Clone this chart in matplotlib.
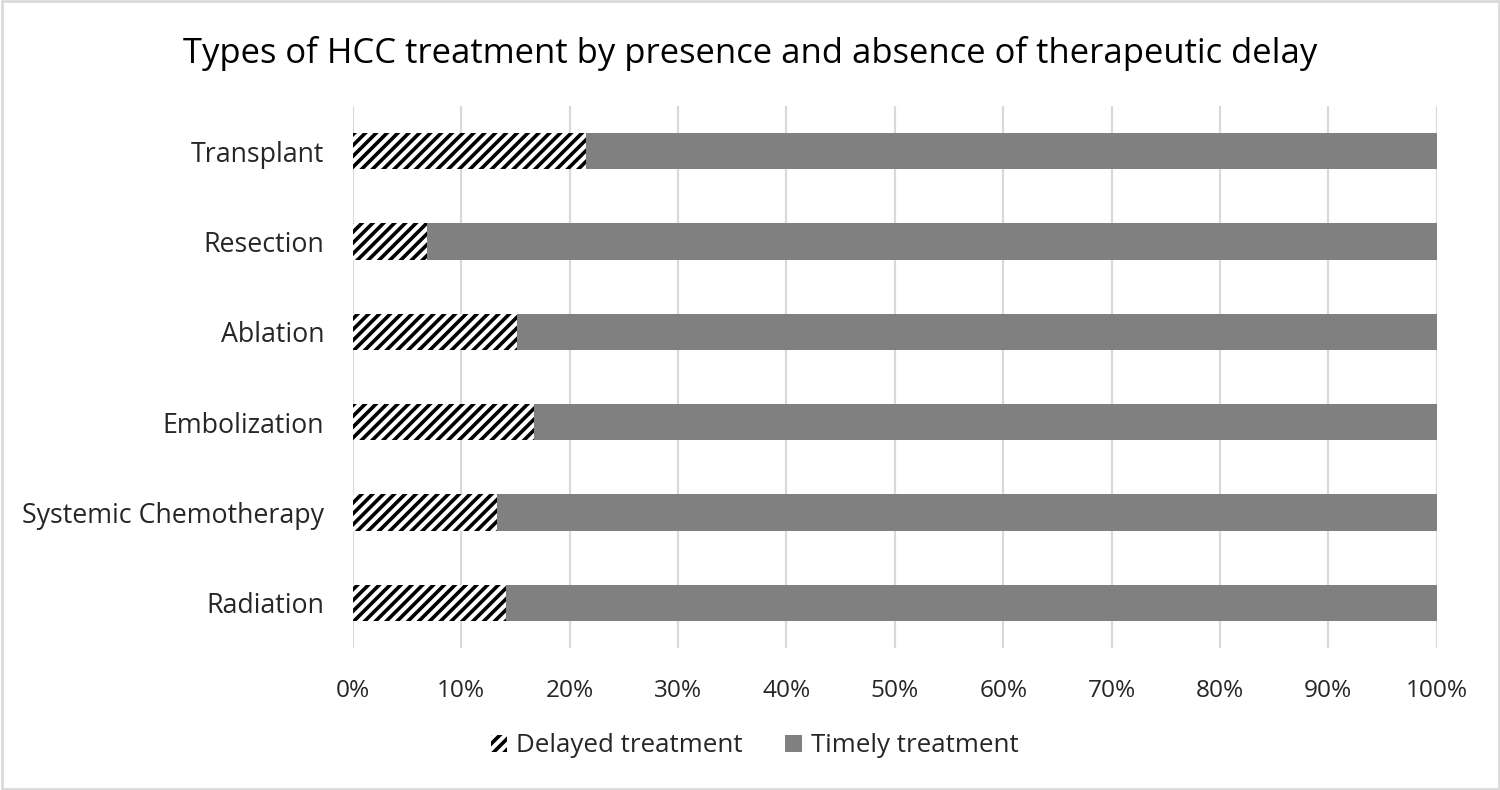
import numpy as np
import matplotlib
matplotlib.use("Agg")
import matplotlib.pyplot as plt
from matplotlib.patches import Rectangle
from matplotlib.ticker import PercentFormatter

plt.rcParams['font.family'] = ['Open Sans', 'DejaVu Sans']
plt.rcParams['hatch.linewidth'] = 2.0
plt.rcParams['hatch.color'] = 'black'

categories = ["Transplant", "Resection", "Ablation", "Embolization",
              "Systemic Chemotherapy", "Radiation"]
delayed = [21.5, 6.8, 15.1, 16.7, 13.3, 14.1]
timely = [100 - d for d in delayed]

dpi = 130
fig = plt.figure(figsize=(1500 / dpi, 790 / dpi), dpi=dpi)
ax = fig.add_axes([0.2353, 0.1797, 0.7225, 0.6861])

y = np.arange(len(categories))
ax.barh(y, delayed, height=0.4, color='white', edgecolor='black', hatch='////',
        linewidth=0, label='Delayed treatment', zorder=3)
ax.barh(y, timely, left=delayed, height=0.4, color='#808080', linewidth=0,
        label='Timely treatment', zorder=3)

ax.set_ylim(len(categories) - 0.5, -0.5)
ax.set_yticks(y)
ax.set_yticklabels(categories, fontsize=14.8, color='#262626')
ax.set_xlim(0, 100)
ax.set_xticks(np.arange(0, 101, 10))
ax.xaxis.set_major_formatter(PercentFormatter(decimals=0))
ax.tick_params(axis='x', labelsize=13.5, colors='#262626', length=0, pad=17)
ax.tick_params(axis='y', length=0, pad=16)
ax.grid(axis='x', color='#d9d9d9', linewidth=1.2, zorder=0)
for s in ax.spines.values():
    s.set_visible(False)

fig.suptitle("Types of HCC treatment by presence and absence of therapeutic delay",
             fontsize=19.2, y=0.955, color='black')

leg = fig.legend(loc='center', bbox_to_anchor=(0.503, 0.056), ncol=2, frameon=False,
                 fontsize=14.3, handlelength=0.62, handleheight=0.62,
                 columnspacing=1.67, handletextpad=0.35)
for t in leg.get_texts():
    t.set_color('#262626')

fig.patches.append(Rectangle((0.001, 0.001), 0.998, 0.998, transform=fig.transFigure,
                             fill=False, edgecolor='#d9d9d9', linewidth=1.5))

fig.savefig("out.png", dpi=dpi)
